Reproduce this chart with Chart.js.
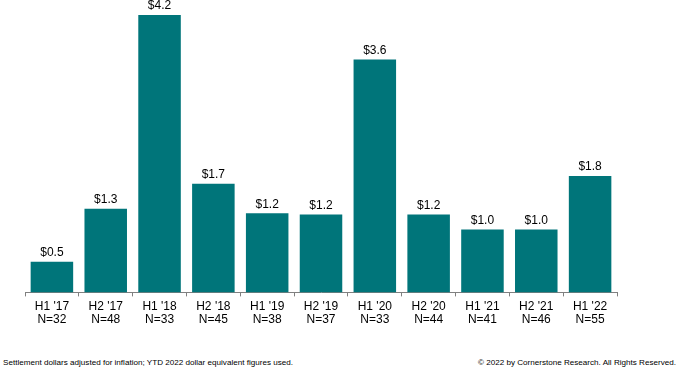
<!DOCTYPE html>
<html>
<head>
<meta charset="utf-8">
<script src="https://cdn.jsdelivr.net/npm/chart.js@4.4.0/dist/chart.umd.min.js"></script>
<style>
  html, body { margin: 0; padding: 0; background: #fff; }
  body { width: 680px; height: 371px; position: relative; overflow: hidden; font-family: "Liberation Sans", Arial, sans-serif; }
  #wrap { position: absolute; left: 0; top: 0; width: 680px; height: 340px; }
  .foot { position: absolute; top: 358px; font-size: 8.1px; color: #000; white-space: nowrap; }
  #fl { left: 3px; }
  #fr { right: 4px; }
</style>
</head>
<body>
<div id="wrap"><canvas id="c"></canvas></div>
<div class="foot" id="fl">Settlement dollars adjusted for inflation; YTD 2022 dollar equivalent figures used.</div>
<div class="foot" id="fr">© 2022 by Cornerstone Research. All Rights Reserved.</div>
<script>
const periods = ["H1 '17", "H2 '17", "H1 '18", "H2 '18", "H1 '19", "H2 '19", "H1 '20", "H2 '20", "H1 '21", "H2 '21", "H1 '22"];
const counts = [32, 48, 33, 45, 38, 37, 33, 44, 41, 46, 55];
const values = [0.47, 1.28, 4.24, 1.66, 1.21, 1.19, 3.56, 1.19, 0.96, 0.96, 1.78];

const labels = periods.map((p, i) => [p, "N=" + counts[i]]);

const valueLabelPlugin = {
  id: 'valueLabels',
  afterDatasetsDraw(chart) {
    const ctx = chart.ctx;
    const meta = chart.getDatasetMeta(0);
    ctx.save();
    ctx.font = '12px "Liberation Sans", Arial, sans-serif';
    ctx.fillStyle = '#000';
    ctx.textAlign = 'center';
    ctx.textBaseline = 'bottom';
    meta.data.forEach((bar, i) => {
      ctx.fillText('$' + values[i].toFixed(1), bar.x, bar.y - 3);
    });
    ctx.restore();
  }
};

new Chart(document.getElementById('c'), {
  type: 'bar',
  data: {
    labels: labels,
    datasets: [{
      data: values,
      backgroundColor: '#00757A',
      borderWidth: 0,
      barPercentage: 0.79,
      categoryPercentage: 1.0
    }]
  },
  options: {
    responsive: true,
    maintainAspectRatio: false,
    animation: false,
    layout: { padding: { left: 25, right: 63, top: 15, bottom: 10 } },
    plugins: { legend: { display: false }, tooltip: { enabled: false } },
    scales: {
      x: {
        grid: { offset: true, drawOnChartArea: false, drawTicks: true, tickLength: 4, color: '#808080' },
        border: { color: '#808080', width: 1 },
        ticks: { color: '#000', font: { size: 12, family: '"Liberation Sans", Arial, sans-serif', lineHeight: 1.15 }, padding: 3, maxRotation: 0, autoSkip: false }
      },
      y: {
        display: false,
        min: 0,
        max: 4.24
      }
    }
  },
  plugins: [valueLabelPlugin]
});
</script>
</body>
</html>
